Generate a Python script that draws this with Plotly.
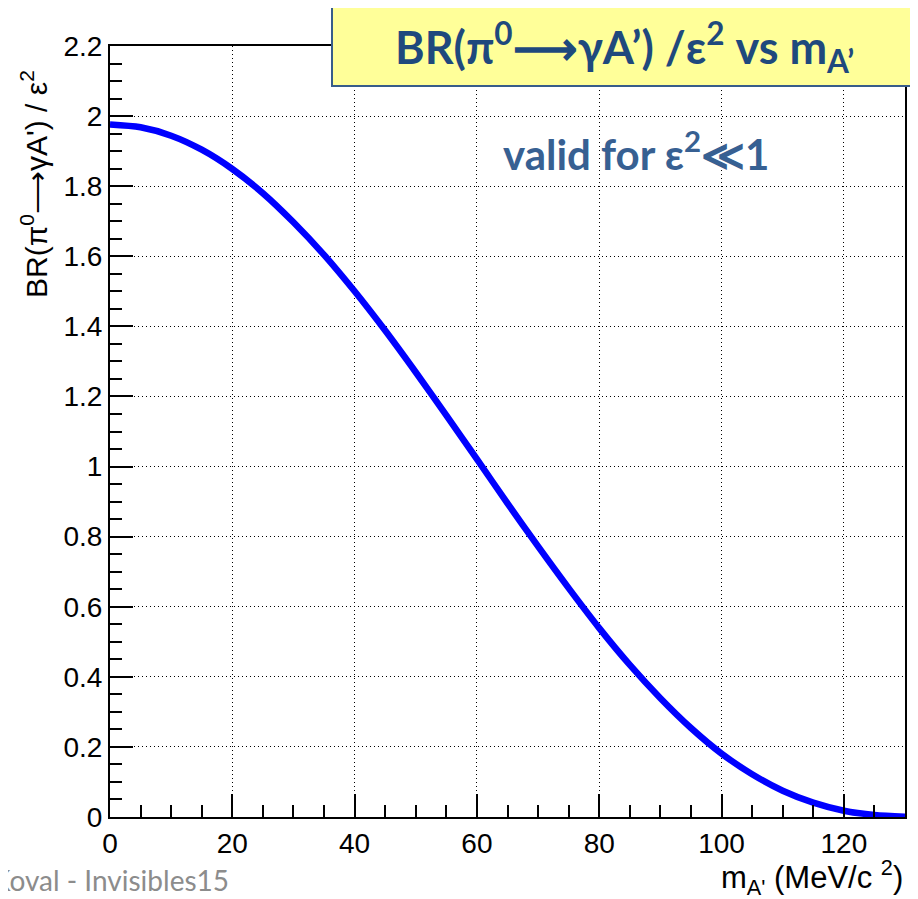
import plotly.graph_objects as go

# Data: BR(pi0 -> gamma A') / eps^2 vs m_A' (MeV/c^2)
mass = [0, 5, 10, 15, 20, 25, 30, 35, 40, 45, 50, 55, 60, 65,
        70, 75, 80, 85, 90, 95, 100, 105, 110, 115, 120, 125, 130]
br = [1.976, 1.968, 1.944, 1.904, 1.849, 1.780, 1.697, 1.604, 1.500, 1.388,
      1.269, 1.146, 1.021, 0.895, 0.772, 0.653, 0.539, 0.434, 0.339, 0.254,
      0.181, 0.122, 0.075, 0.041, 0.018, 0.006, 0.001]

x_ticks = [0, 20, 40, 60, 80, 100, 120]
y_ticks = [0, 0.2, 0.4, 0.6, 0.8, 1.0, 1.2, 1.4, 1.6, 1.8, 2.0, 2.2]
y_tick_text = ["0", "0.2", "0.4", "0.6", "0.8", "1", "1.2", "1.4", "1.6", "1.8", "2", "2.2"]

# the page body has an 8px margin, so the figure is drawn 8px right/down
OFF = 8
W, H = 918 - OFF, 899 - OFF
# plot frame in screen pixels: left 110, right 905, top 46, bottom 817
L, R, T, B = 110 - OFF, 918 - 905, 46 - OFF, 899 - 817
PW, PH = W - L - R, H - T - B


def px(xs):
    """screen x pixel -> paper coordinate"""
    return (xs - 110) / PW


def py(ys):
    """screen y pixel -> paper coordinate"""
    return (817 - ys) / PH


fig = go.Figure()
fig.add_trace(go.Scatter(
    x=mass, y=br, mode="lines",
    line=dict(color="#0000FF", width=6.5, shape="spline", smoothing=0.8),
    showlegend=False, hoverinfo="skip",
))

axis_common = dict(
    showline=True, linecolor="black", linewidth=2, mirror=True,
    ticks="inside", tickcolor="black", tickwidth=1.5, ticklen=23,
    showgrid=True, gridcolor="black", griddash="1px,3px", gridwidth=1.2,
    zeroline=False,
    tickfont=dict(family="Liberation Sans, Arial, sans-serif", size=28, color="black"),
)

fig.update_xaxes(
    range=[0, 130], tickvals=x_ticks,
    minor=dict(ticks="inside", ticklen=12, tickwidth=1.5, tickcolor="black", dtick=5, showgrid=False),
    **axis_common,
)
fig.update_yaxes(
    range=[0, 2.2], tickvals=y_ticks, ticktext=y_tick_text,
    minor=dict(ticks="inside", ticklen=12, tickwidth=1.5, tickcolor="black", dtick=0.05, showgrid=False),
    **axis_common,
)

# Yellow title box
fig.add_shape(
    type="rect", xref="paper", yref="paper",
    x0=px(332), x1=px(935), y0=py(86), y1=py(6),
    fillcolor="#FFFF99", line=dict(color="#385D8A", width=2), layer="above",
)

annotations = [
    dict(text="BR(π<sup>0</sup>⟶γA’) /ε<sup>2</sup> vs m<sub>A’</sub>",
         x=px(624), y=py(47), xanchor="center", yanchor="middle",
         font=dict(family="Lato, sans-serif", size=45, color="#1F497D", weight="bold")),
    dict(text="valid for ε<sup>2</sup>≪1",
         x=px(636), y=py(151), xanchor="center", yanchor="middle",
         font=dict(family="Lato, sans-serif", size=42, color="#376092", weight="bold")),
    dict(text="BR(π<sup>0</sup>⟶γA') / ε<sup>2</sup>", textangle=-90,
         x=px(34), y=py(184), xanchor="center", yanchor="middle",
         font=dict(family="Liberation Sans, Arial, sans-serif", size=30, color="black")),
    dict(text="m<sub>A'</sub> (MeV/c <sup>2</sup>)",
         x=px(905), y=py(877), xanchor="right", yanchor="middle",
         font=dict(family="Liberation Sans, Arial, sans-serif", size=31, color="black")),
    dict(text="Koval - Invisibles15",
         x=px(231), y=py(880), xanchor="right", yanchor="middle",
         font=dict(family="Lato, sans-serif", size=28, color="#8C8C8C")),
]
for a in annotations:
    fig.add_annotation(xref="paper", yref="paper", showarrow=False, **a)

fig.update_layout(
    width=W, height=H,
    margin=dict(l=L, r=R, t=T, b=B, autoexpand=False),
    paper_bgcolor="white", plot_bgcolor="white",
)

fig.write_html("out.html")
